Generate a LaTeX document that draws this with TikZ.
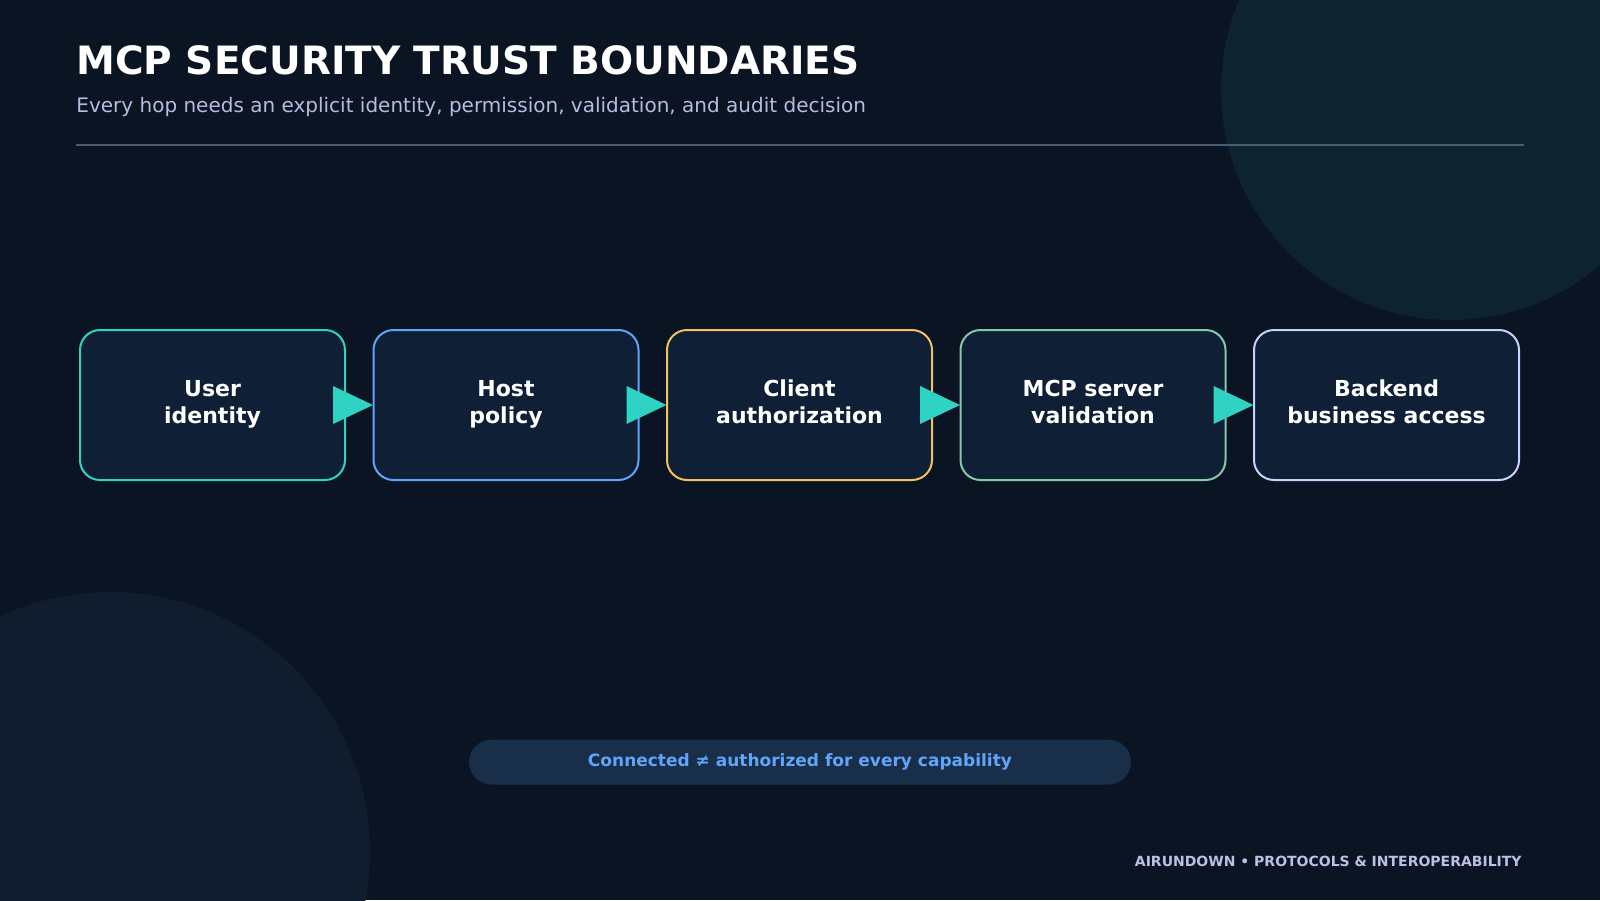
\documentclass[tikz,border=0pt]{standalone}
\usepackage{fontspec}
\setmainfont{DejaVu Sans}
\begin{document}
\definecolor{bg}{HTML}{0A1422}
\definecolor{boxfill}{HTML}{0F1F35}
\definecolor{arr}{HTML}{2FD3C3}
\definecolor{cA}{HTML}{2DD4BF}
\definecolor{cB}{HTML}{60A5FA}
\definecolor{cC}{HTML}{F5C060}
\definecolor{cD}{HTML}{86C9A8}
\definecolor{cE}{HTML}{C7D2FE}
\begin{tikzpicture}[x=0.5pt,y=-0.5pt,
  box/.style={draw=#1,line width=1pt,fill=boxfill,rounded corners=10pt,minimum width=132.5pt,minimum height=75pt,align=center,text=white,font=\bfseries\fontsize{11}{13.5}\selectfont,inner sep=0pt},
  tri/.style={fill=arr}]
\fill[bg] (0,0) rectangle (1600,900);
\useasboundingbox (0,0) rectangle (1600,900);
\fill[color=cA!8!bg] (1451,90) circle (115pt);
\fill[color=cB!6!bg] (110,852) circle (130pt);
\node[anchor=west,inner sep=0pt,text=white,font=\bfseries\fontsize{19.5}{22}\selectfont] (title) at (76,60) {MCP SECURITY TRUST BOUNDARIES};
\node[anchor=west,inner sep=0pt,text=cE!75!gray,font=\fontsize{10}{12}\selectfont] (sub) at (76,107) {Every hop needs an explicit identity, permission, validation, and audit decision};
\draw[color=cB!35!gray!60!bg,line width=0.7pt] (76,145) coordinate (l1) -- (1524,145) coordinate (l2);
\foreach \i/\c/\ta/\tb in {0/cA/User/identity,1/cB/Host/policy,2/cC/Client/authorization,3/cD/MCP server/validation,4/cE/Backend/business access}{
  \node[box=\c] (b\i) at ({212.5+\i*293.5},405) {\ta\strut\\\tb\strut};
}
\foreach \i in {0,1,2,3}{
  \fill[arr] ([xshift=-6.5pt,yshift=-9.5pt]b\i.east) coordinate (t\i) -- ([xshift=-6.5pt,yshift=9.5pt]b\i.east) -- ([xshift=13.5pt]b\i.east) -- cycle;
}
\node[fill=cB!18!bg,rounded corners=11.25pt,minimum width=331pt,minimum height=22.5pt,text=cB,font=\bfseries\fontsize{8.5}{10}\selectfont] (pill) at (800,762) {\strut Connected ≠ authorized for every capability};
\node[anchor=east,inner sep=0pt,text=cE!80!gray,font=\bfseries\fontsize{7}{8}\selectfont] (foot) at (1522,861) {AIRUNDOWN • PROTOCOLS \& INTEROPERABILITY};
\end{tikzpicture}
\end{document}
